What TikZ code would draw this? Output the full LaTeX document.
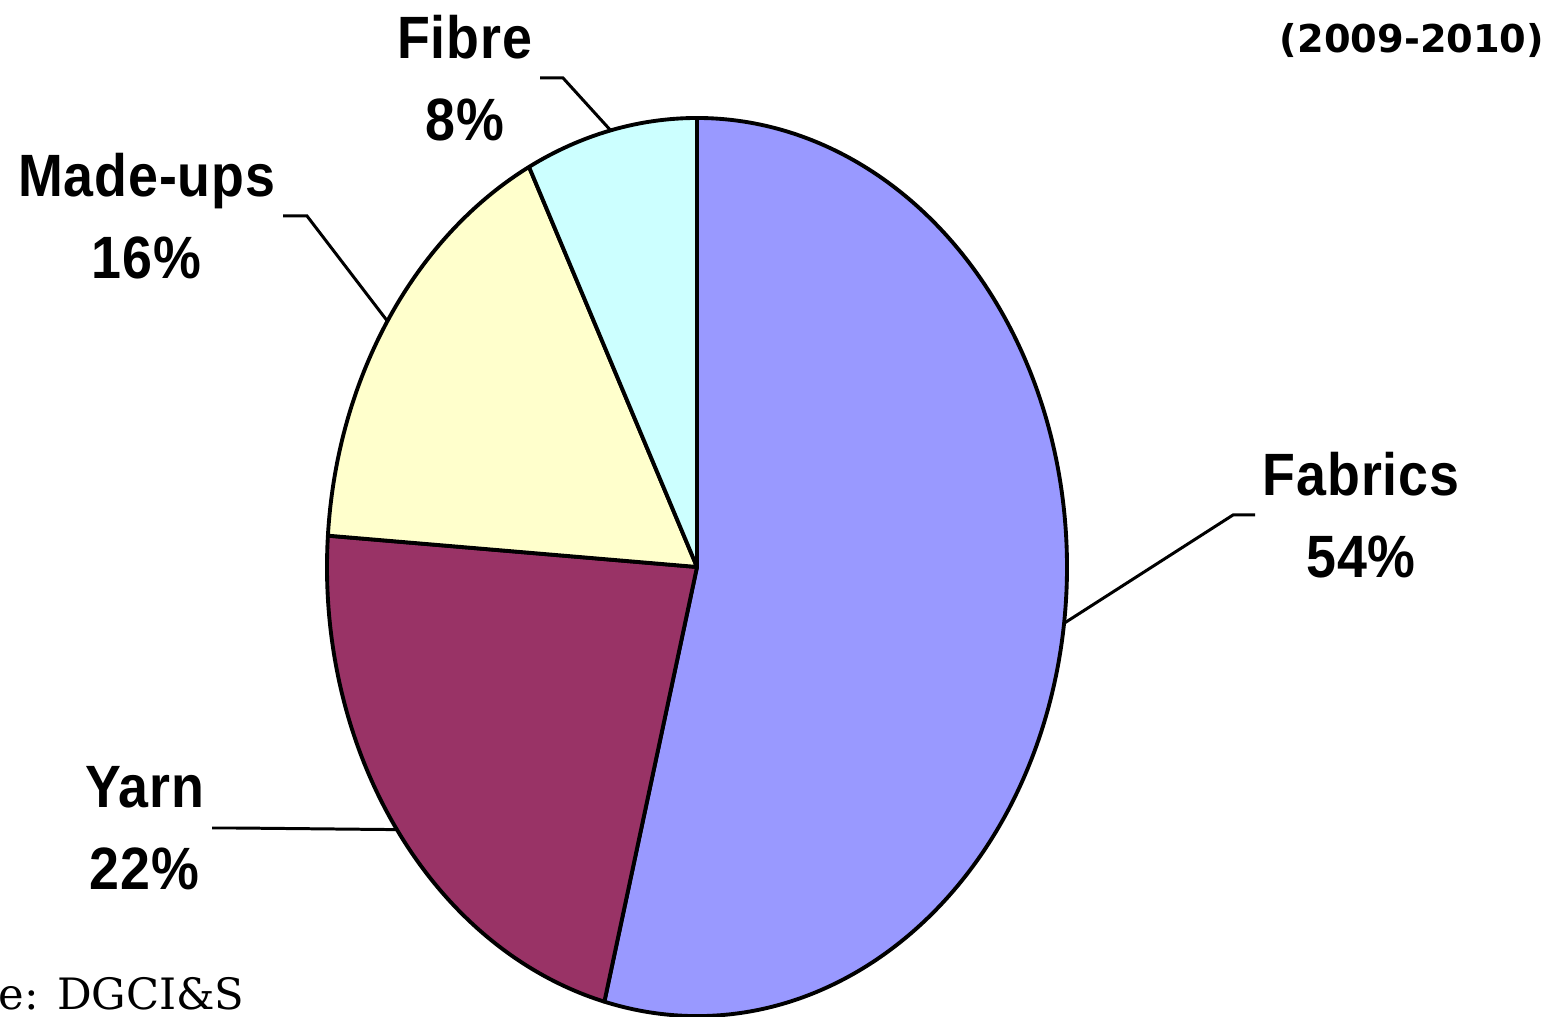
\documentclass[tikz,border=0pt]{standalone}
\usepackage{fontspec}
\usetikzlibrary{calc}
\newfontfamily\chartfont[FakeStretch=0.9,LetterSpace=1.5]{Liberation Sans}
\newfontfamily\yearfont{DejaVu Sans}
\newfontfamily\sourcefont{DejaVu Serif}
\definecolor{fabricsblue}{HTML}{9999FF}
\definecolor{yarnplum}{HTML}{993366}
\definecolor{madeupsyellow}{HTML}{FFFFCC}
\definecolor{fibrecyan}{HTML}{CCFFFF}
\tikzstyle{slice}=[draw=black,line width=1.1pt,line join=round]
\tikzstyle{share}=[align=center,inner sep=0.07cm,font={\chartfont\bfseries\fontsize{17}{23.5}\selectfont}]
\tikzstyle{leader}=[-,line width=0.85pt]

\begin{document}
\begin{tikzpicture}

  \useasboundingbox (0,0) rectangle (15.6,10.17);

  \coordinate (C) at (6.97,4.50);
  \filldraw[slice,fill=fabricsblue] (C) -- ($(C)+(255.5:3.7 and 4.49)$) arc[start angle=255.5,end angle=450,x radius=3.7,y radius=4.49] -- cycle;
  \filldraw[slice,fill=yarnplum] (C) -- ($(C)+(176:3.7 and 4.49)$) arc[start angle=176,end angle=255.5,x radius=3.7,y radius=4.49] -- cycle;
  \filldraw[slice,fill=madeupsyellow] (C) -- ($(C)+(117:3.7 and 4.49)$) arc[start angle=117,end angle=176,x radius=3.7,y radius=4.49] -- cycle;
  \filldraw[slice,fill=fibrecyan] (C) -- ($(C)+(90:3.7 and 4.49)$) arc[start angle=90,end angle=117,x radius=3.7,y radius=4.49] -- cycle;

  \node[share,anchor=east] (Fi) at (5.40,9.39) {Fibre\\8\%};
  \node[share,anchor=east] (MU) at (2.83,8.01) {Made-ups\\16\%};
  \node[share,anchor=east] (Ya) at (2.12,1.89) {Yarn\\22\%};
  \node[share,anchor=west] (Fa) at (12.55,5.02) {Fabrics\\54\%};

  \coordinate (Fik) at (5.63,9.39);
  \coordinate (MUk) at (3.07,8.01);
  \coordinate (Yak) at (2.35,1.89);
  \coordinate (Fak) at (12.33,5.02);
  \coordinate (Fie) at ($(C)+(103.5:3.7 and 4.49)$);
  \coordinate (MUe) at ($(C)+(146.8:3.7 and 4.49)$);
  \coordinate (Yae) at ($(C)+(215.8:3.7 and 4.49)$);
  \coordinate (Fae) at ($(C)+(352.8:3.7 and 4.49)$);

  \draw[leader] (Fi.east)--(Fik)--(Fie);
  \draw[leader] (MU.east)--(MUk)--(MUe);
  \draw[leader] (Ya.east)--(Yak)--(Yae);
  \draw[leader] (Fa.west)--(Fak)--(Fae);

  \node[font=\yearfont\bfseries\fontsize{10.9}{13}\selectfont] (Y) at (14.12,9.76) {(2009-2010)};
  \node[font=\sourcefont\fontsize{12.3}{15}\selectfont,anchor=base west,inner sep=0pt] (S) at (-0.02,0.07) {e: DGCI\&S};

\end{tikzpicture}
\end{document}
